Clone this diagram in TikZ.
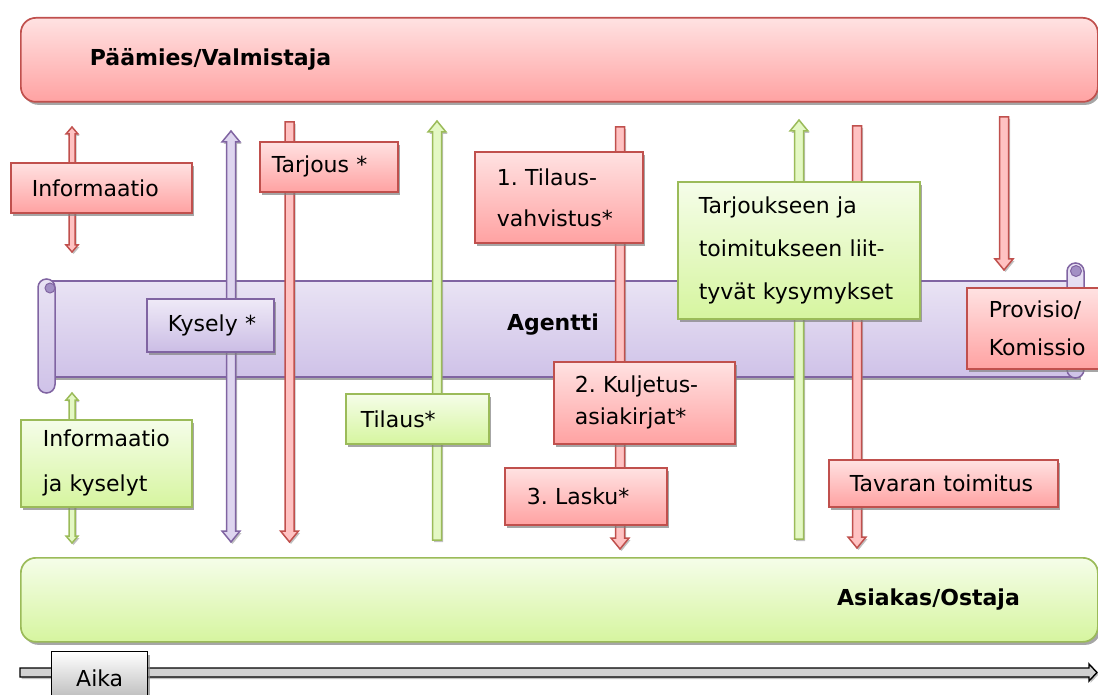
\documentclass[tikz,border=0pt]{standalone}
\usepackage{fontspec}
\setmainfont{DejaVu Sans}
\usetikzlibrary{calc,shadows}
\frenchspacing
\definecolor{redB}{HTML}{C0504D}
\definecolor{redT}{HTML}{FFE2E2}
\definecolor{redD}{HTML}{FFA2A2}
\definecolor{redA}{HTML}{FFC2C2}
\definecolor{grnB}{HTML}{9BBB59}
\definecolor{grnT}{HTML}{F5FDE9}
\definecolor{grnD}{HTML}{D6F59F}
\definecolor{grnA}{HTML}{E4F8C4}
\definecolor{purB}{HTML}{8064A2}
\definecolor{purT}{HTML}{EFEAF7}
\definecolor{purD}{HTML}{CBBDE5}
\definecolor{purA}{HTML}{DED5EF}
\definecolor{scrT}{HTML}{E9E3F4}
\definecolor{scrD}{HTML}{CFC2E8}
\definecolor{curlC}{HTML}{A28FC4}
\newcommand\dgfs[1]{\fontsize{22}{#1}\selectfont}
\newcommand\arW{4.5pt}
\newcommand\arH{9pt}
\newcommand\arL{11pt}
% down arrow: flat top at #2, tip at #3
\newcommand\arrdn[3]{\draw[#1] let \p1=(#2), \p2=(#3) in
  ({\x1-\arW},\y1) -- ({\x1+\arW},\y1) -- ({\x1+\arW},{\y2+\arL}) -- ({\x1+\arH},{\y2+\arL})
  -- (\x1,\y2) -- ({\x1-\arH},{\y2+\arL}) -- ({\x1-\arW},{\y2+\arL}) -- cycle;}
% up arrow: tip at #2, flat bottom at #3
\newcommand\arrup[3]{\draw[#1] let \p1=(#2), \p2=(#3) in
  (\x1,\y1) -- ({\x1+\arH},{\y1-\arL}) -- ({\x1+\arW},{\y1-\arL}) -- ({\x1+\arW},\y2)
  -- ({\x1-\arW},\y2) -- ({\x1-\arW},{\y1-\arL}) -- ({\x1-\arH},{\y1-\arL}) -- cycle;}
% double arrow: tips at #2 and #3
\newcommand\arrbi[3]{\draw[#1] let \p1=(#2), \p2=(#3) in
  (\x1,\y1) -- ({\x1+\arH},{\y1-\arL}) -- ({\x1+\arW},{\y1-\arL}) -- ({\x1+\arW},{\y2+\arL})
  -- ({\x1+\arH},{\y2+\arL}) -- (\x1,\y2) -- ({\x1-\arH},{\y2+\arL}) -- ({\x1-\arW},{\y2+\arL})
  -- ({\x1-\arW},{\y1-\arL}) -- ({\x1-\arH},{\y1-\arL}) -- cycle;}
\begin{document}
\begin{tikzpicture}[x=1pt,y=-1pt,font=\dgfs{26},
  shad/.style={drop shadow={shadow xshift=2.5pt,shadow yshift=-3pt,fill=black!50,opacity=0.7}},
  ashad/.style={drop shadow={shadow xshift=1.5pt,shadow yshift=-2pt,fill=black!45,opacity=0.55}},
  redbox/.style={draw=redB,top color=redT,bottom color=redD},
  grnbox/.style={draw=grnB,top color=grnT,bottom color=grnD},
  purbox/.style={draw=purB,top color=purT,bottom color=purD},
  lbox/.style n args={3}{anchor=north west,rectangle,text width=#1pt,inner xsep=#2pt,
     inner ysep=0pt,minimum height=#3pt,align=left,line width=1.6pt,shad},
  bigbox/.style={anchor=north west,rectangle,rounded corners=15pt,minimum height=84pt,
     inner ysep=0pt,line width=1.7pt,shad,font=\dgfs{26}\bfseries},
  redarr/.style={draw=redB,fill=redA,line width=1.5pt,ashad},
  grnarr/.style={draw=grnB,fill=grnA,line width=1.5pt,ashad},
  purarr/.style={draw=purB,fill=purA,line width=1.5pt,ashad},
  scrollsty/.style={draw=purB,top color=scrT,bottom color=scrD,line width=1.5pt}]
\useasboundingbox (0,0) rectangle (1098,695);
\clip (0,0) rectangle (1098,695);
% main parties
\node[bigbox,redbox,text width=939pt,inner xsep=69pt,align=left] (paam) at (20,17) {Päämies/Valmistaja};
\node[bigbox,grnbox,text width=921pt,inner xsep=78pt,align=right] (asiak) at (20,557) {Asiakas/Ostaja};
% scroll (agent)
\draw[scrollsty,shad] (46,281) rectangle (1078,377);
\draw[scrollsty] (38,279) [rounded corners=8.5pt] rectangle (55,393);
\draw[draw=purB,fill=curlC,line width=1pt] (50,288) circle (5);
\draw[scrollsty] (1067,263) [rounded corners=8.5pt] rectangle (1084,378);
\draw[draw=purB,fill=curlC,line width=1pt] (1076,271) circle (5.5);
\node[font=\dgfs{26}\bfseries] (agent) at (553,325) {Agentti};
% arrow end points
\coordinate (i1t) at (72,127);   \coordinate (i1b) at (72,252);
\coordinate (k1t) at (231,131);  \coordinate (k1b) at (231,542);
\coordinate (t1t) at (289.5,122);\coordinate (t1b) at (289.5,542);
\coordinate (o1t) at (437,121);  \coordinate (o1b) at (437,540);
\coordinate (v1t) at (620,127);  \coordinate (v1b) at (620,549);
\coordinate (q1t) at (799,120);  \coordinate (q1b) at (799,539);
\coordinate (d1t) at (857,126);  \coordinate (d1b) at (857,548);
\coordinate (c1t) at (1004,117); \coordinate (c1b) at (1004,270);
\coordinate (g1t) at (72,393);   \coordinate (g1b) at (72,543);
% big arrows
\arrbi{purarr}{k1t}{k1b}
\arrdn{redarr}{t1t}{t1b}
\arrup{grnarr}{o1t}{o1b}
\arrdn{redarr}{v1t}{v1b}
\arrup{grnarr}{q1t}{q1b}
\arrdn{redarr}{d1t}{d1b}
\arrdn{redarr}{c1t}{c1b}
% small arrows
\renewcommand\arW{3pt}\renewcommand\arH{6pt}\renewcommand\arL{7pt}
\arrbi{redarr}{i1t}{i1b}
\arrbi{grnarr}{g1t}{g1b}
% label boxes
\node[lbox={139}{21}{50},redbox] (infoR) at (10,162) {Informaatio};
\node[lbox={114}{12}{50},redbox] (tarj) at (259,141) {\mbox{Tarjous *}};
\node[lbox={85}{21}{53},purbox] (kys) at (146,298) {\mbox{Kysely *}};
\node[lbox={124}{22}{91},redbox,font=\dgfs{41}] (tilv) at (474,151) {\mbox{1. Tilaus-}\\vahvistus*};
\node[lbox={200}{21}{137},grnbox,font=\dgfs{43}] (tarjk) at (677,181)
  {\mbox{Tarjoukseen ja}\\\mbox{toimitukseen liit-}\\\mbox{tyvät kysymykset}};
\node[lbox={100}{22}{81},redbox,font=\dgfs{38}] (prov) at (966,287) {Provisio/\\Komissio};
\node[lbox={113}{15}{50},grnbox] (tilaus) at (345,393) {Tilaus*};
\node[lbox={139}{21}{82},redbox,font=\dgfs{32}] (kulj) at (553,361) {\mbox{2. Kuljetus-}\\asiakirjat*};
\node[lbox={118}{22}{57},redbox] (lasku) at (504,467) {\mbox{3. Lasku*}};
\node[lbox={127}{22}{87},grnbox,font=\dgfs{45}] (infoG) at (20,419) {Informaatio\\\mbox{ja kyselyt}};
\node[lbox={187}{21}{47},redbox] (tav) at (828,459) {\mbox{Tavaran toimitus}};
% time axis
\coordinate (ts) at (20,672.5);
\coordinate (te) at (1097,672.5);
\draw[draw=black,fill=black!18,line width=1.4pt,ashad] let \p1=(ts), \p2=(te) in
  (\x1,{\y1+4.5pt}) -- ({\x2-8pt},{\y1+4.5pt}) -- ({\x2-8pt},{\y1+8.5pt}) -- (\x2,\y1)
  -- ({\x2-8pt},{\y1-8.5pt}) -- ({\x2-8pt},{\y1-4.5pt}) -- (\x1,{\y1-4.5pt}) -- cycle;
\node[anchor=north west,rectangle,draw=black,line width=1.4pt,top color=white,bottom color=black!30,
  minimum width=96pt,minimum height=54pt,inner sep=0pt,shad] (aika) at (51,651) {Aika};
\end{tikzpicture}
\end{document}
